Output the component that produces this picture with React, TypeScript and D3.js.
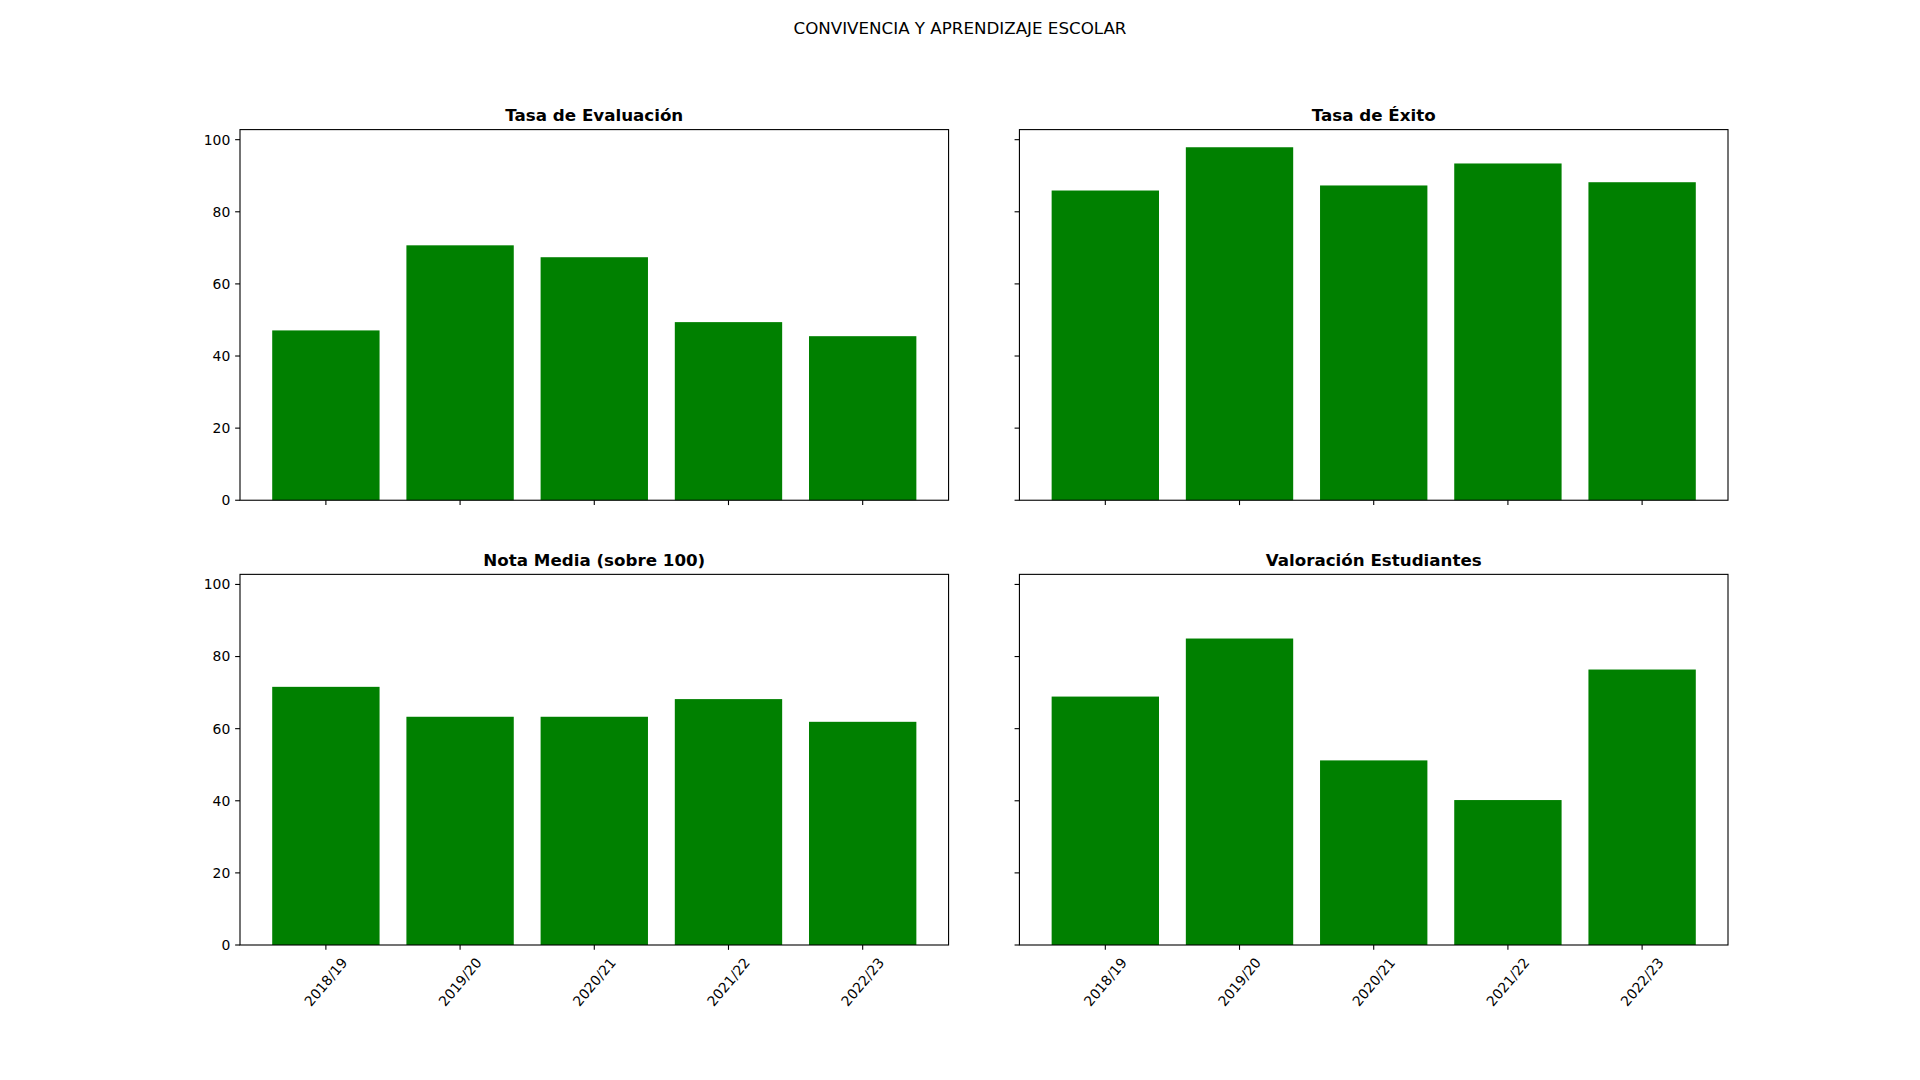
import * as d3 from 'd3';

// Data
const categories = ['2018/19', '2019/20', '2020/21', '2021/22', '2022/23'];
const tasaEvaluacion = [47.1, 70.7, 67.4, 49.4, 45.5];
const tasaExito = [85.9, 97.9, 87.3, 93.4, 88.2];
const notaMedia = [71.6, 63.3, 63.3, 68.2, 61.9];
const valoracionEstudiantes = [68.9, 85.0, 51.2, 40.2, 76.4];
const titles = ['Tasa de Evaluación', 'Tasa de Éxito', 'Nota Media (sobre 100)', 'Valoración Estudiantes'];
const yTicks = [0, 20, 40, 60, 80, 100];

const series = [tasaEvaluacion, tasaExito, notaMedia, valoracionEstudiantes];

const WIDTH = 1920;
const HEIGHT = 1080;
const FONT = '"DejaVu Sans", sans-serif';

// figure layout (matplotlib-like subplots)
const left = 240;
const right = 1728;
const top = 129.6;
const bottom = 945;
const wspace = 0.1;
const hspace = 0.2;
const axW = (right - left) / (2 + wspace);
const axH = (bottom - top) / (2 + hspace);

const BAR_COLOR = '#008000';
const TICK_LEN = 4.86;
const TICK_PAD = 4.86;
const TICK_FONT = 13.9;
const LABEL_ROT = 50;

function Panel({ idx }: { idx: number }) {
  const col = idx % 2;
  const row = Math.floor(idx / 2);
  const x0 = left + col * axW * (1 + wspace);
  const y0 = top + row * axH * (1 + hspace);
  const values = series[idx];

  const allMax = d3.max(series.flat()) as number;
  const y = d3.scaleLinear().domain([0, allMax * 1.05]).range([axH, 0]);
  const x = d3.scaleLinear().domain([-0.64, categories.length - 1 + 0.64]).range([0, axW]);
  const barW = x(0.8) - x(0);

  const showY = col === 0;
  const showX = row === 1;

  // rotated label bbox, centred under tick (ha=center)
  const rad = (LABEL_ROT * Math.PI) / 180;
  const labelLen = 57.7;
  const labelH = 16;
  const labelOffset = TICK_LEN + TICK_PAD + (labelLen * Math.sin(rad) + labelH * Math.cos(rad)) / 2;

  return (
    <g transform={`translate(${x0},${y0})`}>
      {values.map((v, i) => (
        <rect
          key={i}
          x={x(i) - barW / 2}
          y={y(v)}
          width={barW}
          height={axH - y(v)}
          fill={BAR_COLOR}
        />
      ))}

      {/* y ticks */}
      {yTicks.map((t) => (
        <g key={t} transform={`translate(0,${y(t)})`}>
          <line x1={-TICK_LEN} x2={0} stroke="#000" strokeWidth={1.1} />
          {showY && (
            <text
              x={-TICK_LEN - TICK_PAD}
              dy="0.35em"
              textAnchor="end"
              fontSize={TICK_FONT}
              fontFamily={FONT}
            >
              {t}
            </text>
          )}
        </g>
      ))}

      {/* x ticks */}
      {categories.map((c, i) => (
        <g key={c} transform={`translate(${x(i)},${axH})`}>
          <line y1={0} y2={TICK_LEN} stroke="#000" strokeWidth={1.1} />
          {showX && (
            <text
              transform={`translate(0,${labelOffset}) rotate(${-LABEL_ROT})`}
              textAnchor="middle"
              dy="0.35em"
              fontSize={TICK_FONT}
              fontFamily={FONT}
            >
              {c}
            </text>
          )}
        </g>
      ))}

      <rect x={0} y={0} width={axW} height={axH} fill="none" stroke="#000" strokeWidth={1.1} />

      <text
        x={axW / 2}
        y={-8.3}
        textAnchor="middle"
        fontSize={16.7}
        fontWeight="bold"
        fontFamily={FONT}
      >
        {titles[idx]}
      </text>
    </g>
  );
}

export default function App() {
  return (
    <svg
      width={WIDTH}
      height={HEIGHT}
      style={{ position: 'absolute', left: 0, top: 0, background: '#fff' }}
    >
      <rect width={WIDTH} height={HEIGHT} fill="#fff" />
      <text x={WIDTH / 2} y={34} textAnchor="middle" fontSize={16.7} fontFamily={FONT}>
        CONVIVENCIA Y APRENDIZAJE ESCOLAR
      </text>
      {series.map((_, i) => (
        <Panel key={i} idx={i} />
      ))}
    </svg>
  );
}
